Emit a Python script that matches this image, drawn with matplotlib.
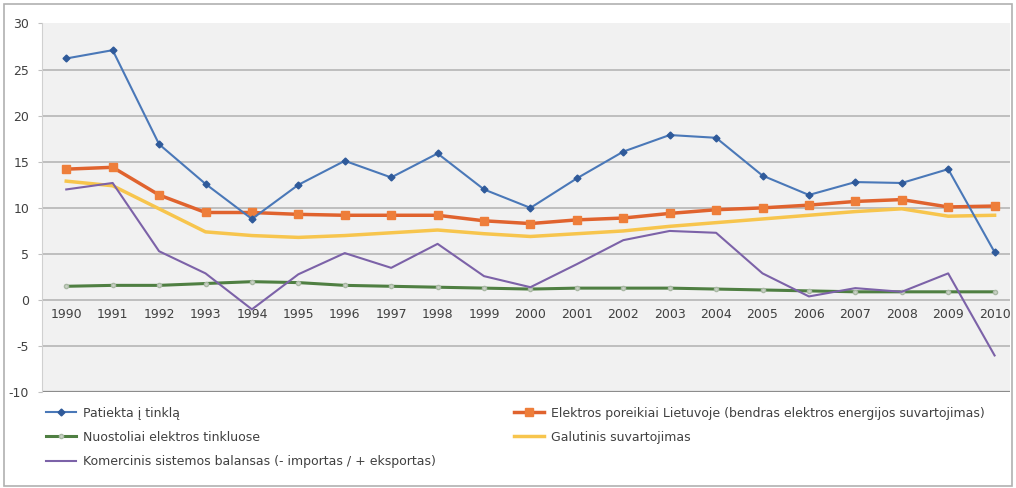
import numpy as np
import matplotlib
matplotlib.use("Agg")
import matplotlib.pyplot as plt
from matplotlib.patches import Rectangle

years = list(range(1990, 2011))

patiekta = [26.2, 27.1, 16.9, 12.6, 8.8, 12.5, 15.1, 13.3, 15.9, 12.0, 10.0,
            13.2, 16.1, 17.9, 17.6, 13.5, 11.4, 12.8, 12.7, 14.2, 5.2]
poreikiai = [14.2, 14.4, 11.4, 9.5, 9.5, 9.3, 9.2, 9.2, 9.2, 8.6, 8.3,
             8.7, 8.9, 9.4, 9.8, 10.0, 10.3, 10.7, 10.9, 10.1, 10.2]
nuostoliai = [1.5, 1.6, 1.6, 1.8, 2.0, 1.9, 1.6, 1.5, 1.4, 1.3, 1.2,
              1.3, 1.3, 1.3, 1.2, 1.1, 1.0, 0.9, 0.9, 0.9, 0.9]
galutinis = [12.9, 12.4, 9.9, 7.4, 7.0, 6.8, 7.0, 7.3, 7.6, 7.2, 6.9,
             7.2, 7.5, 8.0, 8.4, 8.8, 9.2, 9.6, 9.9, 9.1, 9.2]
balansas = [12.0, 12.7, 5.3, 2.9, -1.0, 2.8, 5.1, 3.5, 6.1, 2.6, 1.4,
            3.9, 6.5, 7.5, 7.3, 2.9, 0.4, 1.3, 0.9, 2.9, -6.0]

labels = ["Patiekta į tinklą",
          "Elektros poreikiai Lietuvoje (bendras elektros energijos suvartojimas)",
          "Nuostoliai elektros tinkluose",
          "Galutinis suvartojimas",
          "Komercinis sistemos balansas (- importas / + eksportas)"]

fig = plt.figure(figsize=(10.16, 4.88), dpi=100)
fig.patches.append(Rectangle((0.004, 0.004), 0.992, 0.988, transform=fig.transFigure,
                             fill=False, edgecolor="#b0b0b0", lw=1.2))
ax = fig.add_axes([0.041, 0.196, 0.953, 0.756])
ax.set_facecolor("#f1f1f1")

lines = {}
lines[0], = ax.plot(years, patiekta, color="#4a78b8", lw=1.5, marker="D", ms=3.5,
                    mfc="#2f5a9a", mec="#2f5a9a", zorder=5)
lines[1], = ax.plot(years, poreikiai, color="#e0632e", lw=2.5, marker="s", ms=6,
                    mfc="#ee7e3a", mec="#ee7e3a", zorder=4)
lines[2], = ax.plot(years, nuostoliai, color="#4f7f42", lw=2.2, marker="o", ms=3,
                    mfc="#c9d3c5", mec="#a9b8a4", zorder=3)
lines[3], = ax.plot(years, galutinis, color="#f7c54d", lw=2.5, zorder=2)
lines[4], = ax.plot(years, balansas, color="#7c62a8", lw=1.5, zorder=3)

ax.set_xlim(1989.47, 2010.33)
ax.set_ylim(-10, 30)
yt = np.arange(-10, 31, 5)
ax.set_yticks(yt)
ax.set_yticklabels([str(v) for v in yt], fontsize=9, color="#404040")
for v in yt:
    if v in (-10, 30):
        continue
    ax.axhline(v, color="#b5b5b5", lw=1.2, zorder=1)
ax.axhline(-10, color="#8c8c8c", lw=1.6, zorder=1)

ax.spines["bottom"].set_position(("data", 0))
ax.spines["bottom"].set_visible(False)
ax.spines["top"].set_visible(False)
ax.spines["right"].set_visible(False)
ax.spines["left"].set_color("#d0d0d0")
ax.set_xticks(years)
ax.set_xticklabels([str(y) for y in years], fontsize=9, color="#404040")
ax.tick_params(axis="x", length=0, pad=6)
ax.tick_params(axis="y", length=3, color="#c0c0c0", pad=6)

order = [0, 2, 4, 1, 3]
leg = fig.legend([lines[i] for i in order], [labels[i] for i in order],
                 ncol=2, loc="upper left", bbox_to_anchor=(0.034, 0.19),
                 frameon=False, fontsize=9, handlelength=2.4, columnspacing=6.2,
                 labelspacing=0.9, handletextpad=0.6)
for t in leg.get_texts():
    t.set_color("#404040")

fig.savefig("out.png", dpi=100)
